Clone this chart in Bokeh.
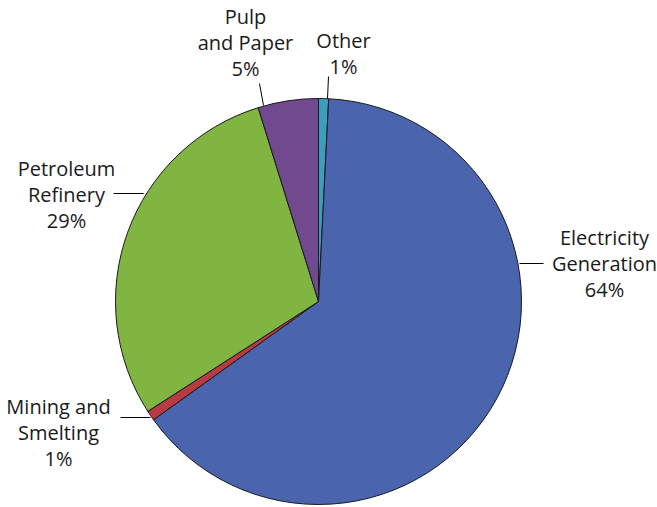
from bokeh.plotting import figure
from bokeh.models import Range1d, ColumnDataSource
from bokeh.core.properties import value
from bokeh.embed import file_html
from bokeh.resources import INLINE
import math

# Data (clockwise from 12 o'clock)
categories = ["Other", "Electricity\nGeneration", "Mining and\nSmelting", "Petroleum\nRefinery", "Pulp\nand Paper"]
shares = [0.8, 64.3, 0.8, 29.3, 4.8]
pct_labels = ["1%", "64%", "1%", "29%", "5%"]
colors = ["#3A9EBC", "#4A64AD", "#B83A42", "#81B542", "#70498F"]

W, H = 657, 507
cx, cy, r = 318, H - 301, 203

total = sum(shares)
starts, ends = [], []
cum = 0.0
for s in shares:
    starts.append(math.pi / 2 - 2 * math.pi * cum / total)
    cum += s
    ends.append(math.pi / 2 - 2 * math.pi * cum / total)

src = ColumnDataSource(dict(start=starts, end=ends, color=colors))

p = figure(width=W, height=H, output_backend="svg", toolbar_location=None,
           x_range=Range1d(0, W), y_range=Range1d(0, H), min_border=0)
p.axis.visible = False
p.grid.visible = False
p.outline_line_color = None
p.background_fill_color = "white"

p.wedge(x=cx, y=cy, radius=r, start_angle="start", end_angle="end", direction="clock",
        fill_color="color", line_color="#1a1a1a", line_width=1, source=src)

# label placement (screen coords) per category
lab_x = [343, 604, 58, 66, 245]
lab_y = [53, 263, 432, 194, 42]
texts = [c + "\n" + pc for c, pc in zip(categories, pct_labels)]
p.text(x=lab_x, y=[H - v for v in lab_y], text=texts, text_align="center", text_baseline="middle",
       text_font=value("Open Sans"), text_font_size="20px", text_color="#1a1a1a", text_line_height=0.96)

# leader lines (screen coords)
lx0 = [328, 519, 120, 113, 259]
ly0 = [76, 263, 417, 193, 83]
lx1 = [327, 543, 150, 143, 263]
ly1 = [98, 263, 417, 193, 105]
p.segment(x0=lx0, y0=[H - v for v in ly0], x1=lx1, y1=[H - v for v in ly1], line_color="black", line_width=1)

open("out.html", "w").write(file_html(p, INLINE))
